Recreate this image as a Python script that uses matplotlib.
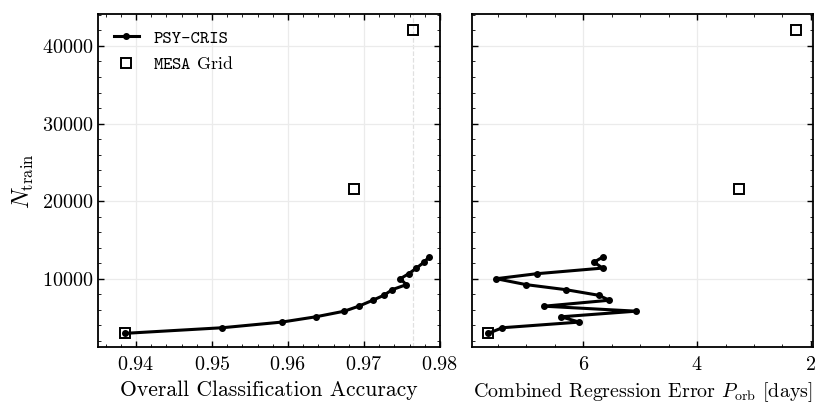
import numpy as np
import matplotlib
matplotlib.use("Agg")
import matplotlib.pyplot as plt

# training-set sizes for the PSY-CRIS runs
n_train = [2955, 3680, 4406, 5090, 5815, 6456, 7224, 7865, 8590, 9231,
           10000, 10640, 11366, 12135, 12776]
psy_acc = [0.93854, 0.95138, 0.95918, 0.96368, 0.96743, 0.96932, 0.97117,
           0.97263, 0.97373, 0.97558, 0.97479, 0.97589, 0.97691, 0.97792,
           0.97854]
psy_err = [7.67, 7.42, 6.07, 6.39, 5.07, 6.69, 5.54, 5.73, 6.31, 7.00,
           7.53, 6.82, 5.66, 5.81, 5.66]

# MESA grids
grid_n = [2955, 21500, 42000]
grid_acc = [0.93854, 0.9687, 0.9764]
grid_err = [7.67, 3.26, 2.26]

plt.rcParams.update({
    "font.family": "serif",
    "font.serif": ["cmr10"],
    "mathtext.fontset": "cm",
    "axes.formatter.use_mathtext": True,
    "axes.unicode_minus": False,
    "xtick.direction": "in",
    "ytick.direction": "in",
    "xtick.top": True,
    "ytick.right": True,
    "xtick.minor.visible": True,
    "ytick.minor.visible": True,
    "xtick.major.size": 4,
    "ytick.major.size": 4,
    "xtick.minor.size": 2.2,
    "ytick.minor.size": 2.2,
    "xtick.major.width": 1.0,
    "ytick.major.width": 1.0,
    "axes.linewidth": 1.3,
})

fig = plt.figure(figsize=(8.3, 4.16), dpi=100)
ax1 = fig.add_axes([0.118, 0.165, 0.412, 0.801])
ax2 = fig.add_axes([0.569, 0.165, 0.410, 0.801], sharey=ax1)

line_kw = dict(color="k", lw=2.2, marker="o", ms=4, zorder=3)
sq_kw = dict(ls="none", marker="s", ms=7.5, mfc="none", mec="k", mew=1.4, zorder=4)

ax1.plot(psy_acc, n_train, label="PSY-CRIS", **line_kw)
ax1.plot(grid_acc, grid_n, label=r"$\mathtt{MESA}$ Grid", **sq_kw)
ax1.axvline(grid_acc[-1], color="0.88", lw=0.9, ls="--", zorder=1)

ax2.plot(psy_err, n_train, **line_kw)
ax2.plot(grid_err, grid_n, **sq_kw)

for ax in (ax1, ax2):
    ax.grid(True, which="major", color="0.92", lw=0.9, zorder=0)
    ax.tick_params(labelsize=14.5)
    ax.tick_params(axis="x", which="major", pad=6)

ax1.set_xlim(0.935, 0.98)
ax1.set_xticks([0.94, 0.95, 0.96, 0.97, 0.98])
ax1.set_ylim(1150, 44100)
ax1.set_yticks([10000, 20000, 30000, 40000])
ax2.set_xlim(7.95, 1.97)
ax2.set_xticks([6, 4, 2])
ax2.tick_params(labelleft=False)

ax1.set_xlabel("Overall Classification Accuracy", fontsize=15.6, labelpad=5)
ax1.set_ylabel(r"$N_{\mathrm{train}}$", fontsize=17)
ax2.set_xlabel(r"Combined Regression Error $P_{\mathrm{orb}}$ [days]", fontsize=14.4,
               labelpad=5)

leg = ax1.legend(loc="upper left", frameon=False, fontsize=12.8,
                 handlelength=1.4, handletextpad=0.8)
leg.get_texts()[0].set_family("cmtt10")

fig.savefig("out.png", dpi=100)
